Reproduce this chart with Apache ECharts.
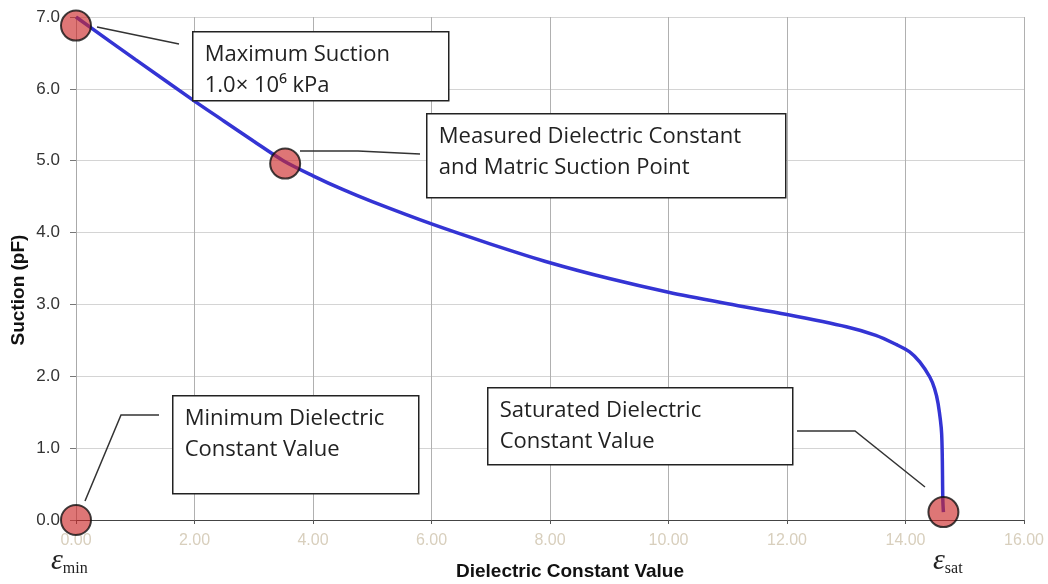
<!DOCTYPE html>
<html>
<head>
<meta charset="utf-8">
<script src="https://cdn.jsdelivr.net/npm/echarts@6/dist/echarts.min.js"></script>
<style>
  html, body { margin: 0; padding: 0; background: #fff; }
  #chart { width: 1048px; height: 584px; }
</style>
</head>
<body>
<div id="chart"></div>
<script>
// soil-water characteristic curve
const curveX = [0, 1, 2, 2.5, 3, 3.5, 4, 4.5, 5, 6, 7, 8, 9, 10, 11, 12, 13, 13.5, 13.85, 14.07, 14.24, 14.41, 14.49, 14.55, 14.61, 14.63, 14.64];
const curveY = [7.0, 6.41, 5.83, 5.55, 5.27, 5.0, 4.79, 4.6, 4.43, 4.12, 3.84, 3.58, 3.36, 3.17, 3.01, 2.86, 2.69, 2.57, 2.44, 2.34, 2.2, 1.99, 1.83, 1.62, 1.2, 0.28, 0.11];

// highlighted points
const pointX = [0, 0, 3.53, 14.64];
const pointY = [6.88, 0, 4.96, 0.11];

const chart = echarts.init(document.getElementById('chart'));

const boxFont = '"Open Sans", sans-serif';

function box(left, top, w, h, lines) {
  return {
    type: 'group',
    left: left,
    top: top,
    z: 100,
    children: [
      {
        type: 'rect',
        z: 100,
        shape: { x: 0, y: 0, width: w, height: h },
        style: { fill: '#fff', stroke: '#222', lineWidth: 1.5 }
      },
      {
        type: 'text',
        z: 101,
        x: 12,
        y: 7,
        style: {
          text: lines,
          fill: '#222',
          font: '22px ' + boxFont,
          lineHeight: 31
        }
      }
    ]
  };
}

function leader(points) {
  return {
    type: 'polyline',
    z: 100,
    shape: { points: points },
    style: { stroke: '#333', lineWidth: 1.5, fill: null }
  };
}

const option = {
  backgroundColor: '#fff',
  animation: false,
  grid: {
    left: 76,
    right: 24,
    top: 17,
    bottom: 64,
    containLabel: false
  },
  xAxis: {
    type: 'value',
    min: 0,
    max: 16,
    interval: 2,
    axisLine: { show: true, onZero: false, lineStyle: { color: '#444', width: 1 } },
    axisTick: { show: true, length: 4, lineStyle: { color: '#555' } },
    axisLabel: {
      color: '#d8cfbd',
      fontSize: 16,
      fontFamily: 'Liberation Sans, Arial, sans-serif',
      margin: 13,
      formatter: v => v.toFixed(2)
    },
    splitLine: { show: true, lineStyle: { color: '#b0b0b0', width: 1 } }
  },
  yAxis: {
    type: 'value',
    min: 0,
    max: 7,
    interval: 1,
    axisLine: { show: true, lineStyle: { color: '#aaa', width: 1 } },
    axisTick: { show: true, length: 6, lineStyle: { color: '#777' } },
    axisLabel: {
      color: '#333',
      fontSize: 17,
      fontFamily: 'Liberation Sans, Arial, sans-serif',
      margin: 16,
      formatter: v => v.toFixed(1)
    },
    splitLine: { show: true, lineStyle: { color: '#d4d4d4', width: 1 } }
  },
  series: [
    {
      name: 'curve',
      type: 'line',
      data: curveX.map((x, i) => [x, curveY[i]]),
      showSymbol: false,
      smooth: 0.3,
      lineStyle: { color: '#3434d4', width: 3.5 },
      z: 2
    },
    {
      name: 'points',
      type: 'scatter',
      data: pointX.map((x, i) => [x, pointY[i]]),
      symbolSize: 30,
      itemStyle: {
        color: 'rgba(204, 40, 40, 0.8)',
        borderColor: '#111',
        borderWidth: 2
      },
      z: 3
    }
  ],
  graphic: [
    leader([[97, 27], [179, 44]]),
    leader([[300, 151], [358, 151], [420, 154]]),
    leader([[85, 501], [121, 415], [159, 415]]),
    leader([[797, 431], [855, 431], [925, 487]]),
    box(192, 31, 256, 69, 'Maximum Suction\n1.0\u00d7 10\u2076 kPa'),
    box(426, 113, 359, 84, 'Measured Dielectric Constant\nand Matric Suction Point'),
    box(172, 395, 246, 98, 'Minimum Dielectric\nConstant Value'),
    box(487, 387, 305, 77, 'Saturated Dielectric\nConstant Value'),
    {
      type: 'text',
      x: 570,
      y: 572,
      style: {
        text: 'Dielectric Constant Value',
        font: 'bold 19px "Liberation Sans", Arial, sans-serif',
        fill: '#111',
        align: 'center',
        verticalAlign: 'middle'
      }
    },
    {
      type: 'text',
      x: 19,
      y: 290,
      rotation: Math.PI / 2,
      style: {
        text: 'Suction (pF)',
        font: 'bold 19px "Liberation Sans", Arial, sans-serif',
        fill: '#111',
        align: 'center',
        verticalAlign: 'middle'
      }
    },
    {
      type: 'text',
      left: 51,
      top: 546,
      style: {
        text: '{e|\u03b5}{s|min}',
        rich: {
          e: { font: 'italic 30px "Liberation Serif", serif', fill: '#222' },
          s: { font: '16px "Liberation Serif", serif', fill: '#222', padding: [16, 0, 0, 0] }
        }
      }
    },
    {
      type: 'text',
      left: 933,
      top: 546,
      style: {
        text: '{e|\u03b5}{s|sat}',
        rich: {
          e: { font: 'italic 30px "Liberation Serif", serif', fill: '#222' },
          s: { font: '16px "Liberation Serif", serif', fill: '#222', padding: [16, 0, 0, 0] }
        }
      }
    }
  ]
};

chart.setOption(option);
</script>
</body>
</html>
